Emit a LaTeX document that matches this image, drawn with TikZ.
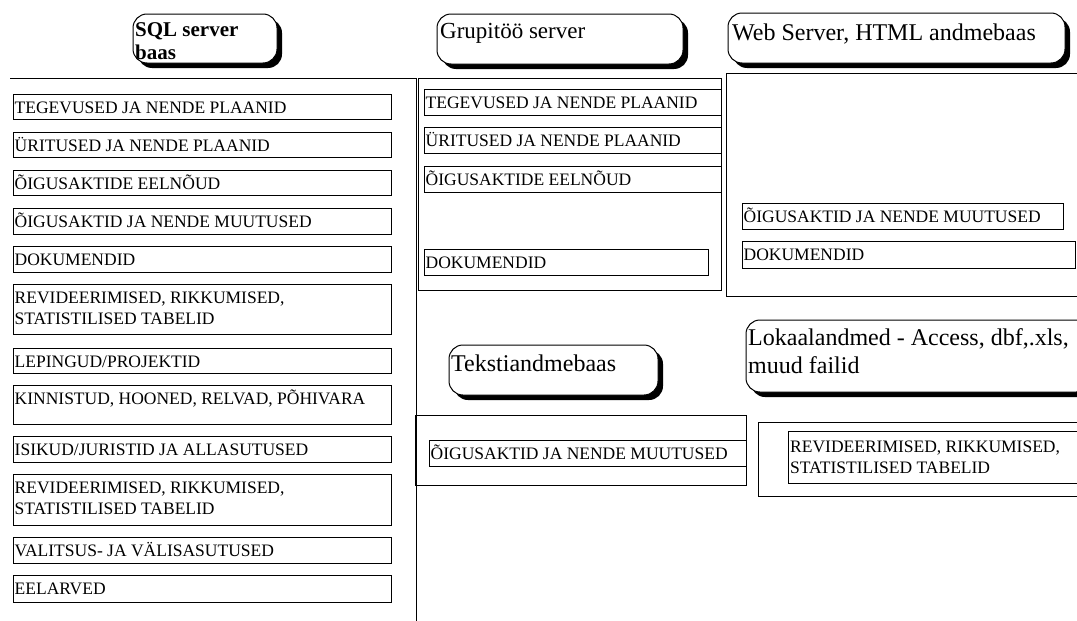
\documentclass[tikz,border=0pt]{standalone}
\usepackage{fontspec}
\setmainfont{Liberation Serif}
\tikzset{
  ln/.style={line width=1pt, draw=black},
  sm/.style={font=\fontsize{17.5}{21}\selectfont, inner sep=0pt, anchor=base west},
  hd/.style={font=\fontsize{24}{28}\selectfont, inner sep=0pt, anchor=base west},
  hdbox/.style={line width=1pt, draw=black, fill=white, rounded corners=14pt},
  shadowst/.style={fill=black, rounded corners=14pt},
}
\newcommand\itembox[6]{%
  \draw[ln] (#2,#3) rectangle (#4,#5);
  \node[sm] (#1) at (#2+1.5,#3+19) {#6};}
\newcommand\hdr[4]{%
  \fill[shadowst] (#1+5,#2+5) rectangle (#3+5,#4+5);
  \draw[hdbox] (#1,#2) rectangle (#3,#4);}
\newcommand\twol[2]{\begin{tabular}[t]{@{}l@{}}#1\\#2\end{tabular}}
\begin{document}
\begin{tikzpicture}[x=1pt,y=-1pt]
\useasboundingbox (0,0) rectangle (1077,621);
\fill[white] (0,0) rectangle (1077,621);
\clip (0,0) rectangle (1077,621);

% headers
\hdr{133}{14}{277}{63}
\node[inner sep=0pt, anchor=base west, font=\bfseries\fontsize{21}{23}\selectfont] (sqlA) at (135,36) {SQL server};
\node[inner sep=0pt, anchor=base west, font=\bfseries\fontsize{21}{23}\selectfont] (sqlB) at (135,59) {baas};

\hdr{437}{14}{683}{64}
\node[inner sep=0pt, anchor=base west, font=\fontsize{23}{27}\selectfont] (grp) at (440,38) {Grupitöö server};

\hdr{728}{13}{1065}{63}
\node[hd] (web) at (732,40) {Web Server, HTML andmebaas};

\hdr{449}{345}{658}{395}
\node[hd] (tek) at (451,371) {Tekstiandmebaas};

\hdr{746}{320}{1090}{392}
\node[hd] (lokA) at (748,345) {Lokaalandmed - Access, dbf,.xls,};
\node[hd] (lokB) at (748,373) {muud failid};

% separators
\coordinate (hl0) at (10,78);
\coordinate (hl1) at (416,78);
\coordinate (vl1) at (416,621);
\draw[ln] (hl0) -- (hl1) -- (vl1);

% left column
\itembox{l1}{13}{94}{391}{119}{TEGEVUSED JA NENDE PLAANID}
\itembox{l2}{13}{132}{391}{157}{ÜRITUSED JA NENDE PLAANID}
\itembox{l3}{13}{170}{391}{195}{ÕIGUSAKTIDE EELNÕUD}
\itembox{l4}{13}{208}{391}{234}{ÕIGUSAKTID JA NENDE MUUTUSED}
\itembox{l5}{13}{246}{391}{272}{DOKUMENDID}
\itembox{l6}{13}{284}{391}{334}{\twol{REVIDEERIMISED, RIKKUMISED,}{STATISTILISED TABELID}}
\itembox{l7}{13}{348}{391}{373}{LEPINGUD/PROJEKTID}
\itembox{l8}{13}{385}{391}{424}{KINNISTUD, HOONED, RELVAD, PÕHIVARA}
\itembox{l9}{13}{436}{391}{462}{ISIKUD/JURISTID JA ALLASUTUSED}
\itembox{l10}{13}{474}{391}{525}{\twol{REVIDEERIMISED, RIKKUMISED,}{STATISTILISED TABELID}}
\itembox{l11}{13}{537}{391}{563}{VALITSUS- JA VÄLISASUTUSED}
\itembox{l12}{13}{575}{391}{602}{EELARVED}

% Grupitöö frame
\draw[ln] (418,78) rectangle (721,290);
\itembox{g1}{424}{89}{721}{115}{TEGEVUSED JA NENDE PLAANID}
\itembox{g2}{424}{127}{721}{153}{ÜRITUSED JA NENDE PLAANID}
\itembox{g3}{424}{166}{721}{192}{ÕIGUSAKTIDE EELNÕUD}
\itembox{g4}{424}{249}{708}{275}{DOKUMENDID}

% Web frame
\draw[ln] (726,73) rectangle (1090,296);
\itembox{w1}{742}{203}{1063}{229}{ÕIGUSAKTID JA NENDE MUUTUSED}
\itembox{w2}{742}{241}{1075}{268}{DOKUMENDID}

% Tekst frame
\draw[ln] (415,415) rectangle (746,485);
\itembox{t1}{429}{440}{746}{466}{ÕIGUSAKTID JA NENDE MUUTUSED}

% Lokaal frame
\draw[ln] (758,422) rectangle (1090,496);
\draw[ln] (788,431) rectangle (1090,483);
\node[sm] (k1) at (790,452) {\twol{REVIDEERIMISED, RIKKUMISED,}{STATISTILISED TABELID}};
\end{tikzpicture}
\end{document}
